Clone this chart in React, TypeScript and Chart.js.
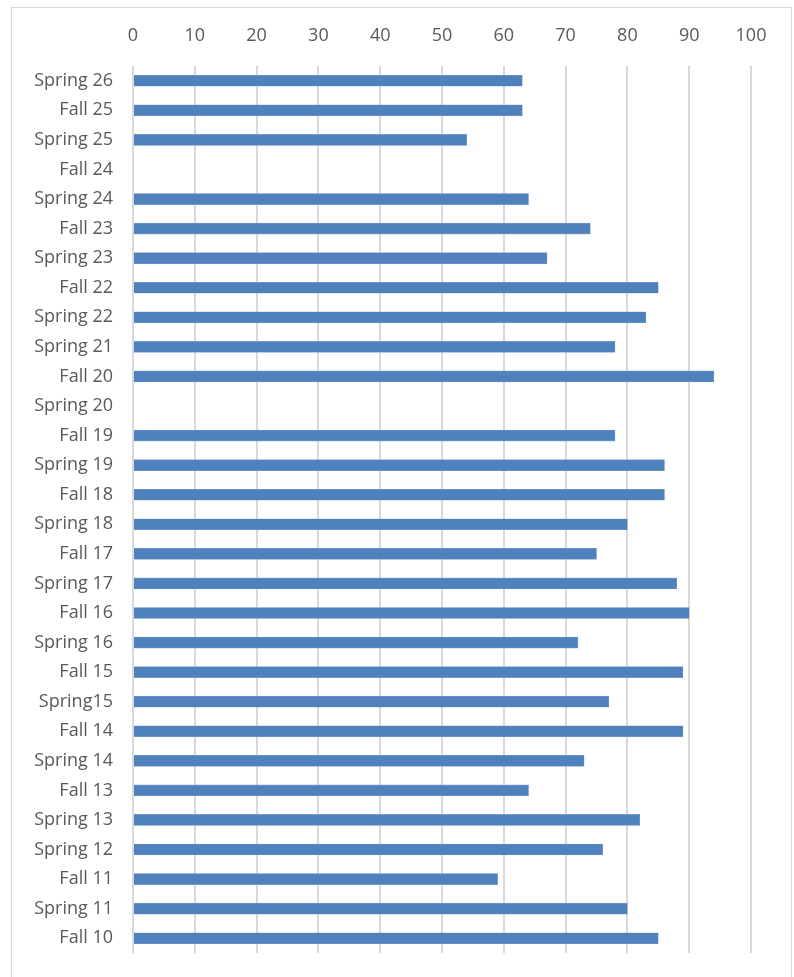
import React, { useEffect, useRef } from "react";
import { Chart, registerables } from "chart.js";

Chart.register(...registerables);

const categories: string[] = [
  "Spring 26", "Fall 25", "Spring 25", "Fall 24", "Spring 24", "Fall 23",
  "Spring 23", "Fall 22", "Spring 22", "Spring 21", "Fall 20", "Spring 20",
  "Fall 19", "Spring 19", "Fall 18", "Spring 18", "Fall 17", "Spring 17",
  "Fall 16", "Spring 16", "Fall 15", "Spring15", "Fall 14", "Spring 14",
  "Fall 13", "Spring 13", "Spring 12", "Fall 11", "Spring 11", "Fall 10",
];

const values: (number | null)[] = [
  63, 63, 54, null, 64, 74,
  67, 85, 83, 78, 94, null,
  78, 86, 86, 80, 75, 88,
  90, 72, 89, 77, 89, 73,
  64, 82, 76, 59, 80, 85,
];

const xMin = 0;
const xMax = 100;
const xStep = 10;

export default function App() {
  const canvasRef = useRef<HTMLCanvasElement | null>(null);

  useEffect(() => {
    const canvas = canvasRef.current;
    if (!canvas) return;
    const chart = new Chart(canvas, {
      type: "bar",
      data: {
        labels: categories,
        datasets: [
          {
            data: values,
            backgroundColor: "#4F81BD",
            borderColor: "#7FA3D0",
            borderWidth: 0.6,
            barThickness: 11,
          },
        ],
      },
      options: {
        indexAxis: "y",
        responsive: false,
        animation: false,
        devicePixelRatio: 1,
        layout: { padding: { left: 0, right: 43, top: 0, bottom: 24 } },
        plugins: {
          legend: { display: false },
          tooltip: { enabled: false },
        },
        scales: {
          x: {
            position: "top",
            min: xMin,
            max: xMax,
            ticks: {
              stepSize: xStep,
              color: "#595959",
              padding: 19,
              font: { family: "Open Sans", size: 18 },
            },
            grid: {
              color: "#D9D9D9",
              lineWidth: 2,
              drawTicks: false,
            },
            border: { display: false },
            afterFit: (scale: any) => {
              scale.height = 66;
            },
          },
          y: {
            ticks: {
              color: "#595959",
              padding: 20,
              autoSkip: false,
              font: { family: "Open Sans", size: 18 },
            },
            grid: { display: false, drawTicks: false },
            border: { display: false },
            afterFit: (scale: any) => {
              scale.width = 133;
              scale.paddingBottom = 0;
            },
          },
        },
      },
    });
    return () => chart.destroy();
  }, []);

  return (
    <div
      style={{
        position: "fixed",
        left: 0,
        top: 0,
        width: 794,
        height: 977,
        overflow: "hidden",
        background: "#fff",
      }}
    >
      <div
        style={{
          position: "absolute",
          left: 11,
          top: 7,
          width: 781,
          height: 1100,
          border: "1px solid #D9D9D9",
          boxSizing: "border-box",
        }}
      />
      <canvas
        ref={canvasRef}
        width={794}
        height={977}
        style={{ position: "absolute", left: 0, top: 0, width: 794, height: 977 }}
      />
    </div>
  );
}
